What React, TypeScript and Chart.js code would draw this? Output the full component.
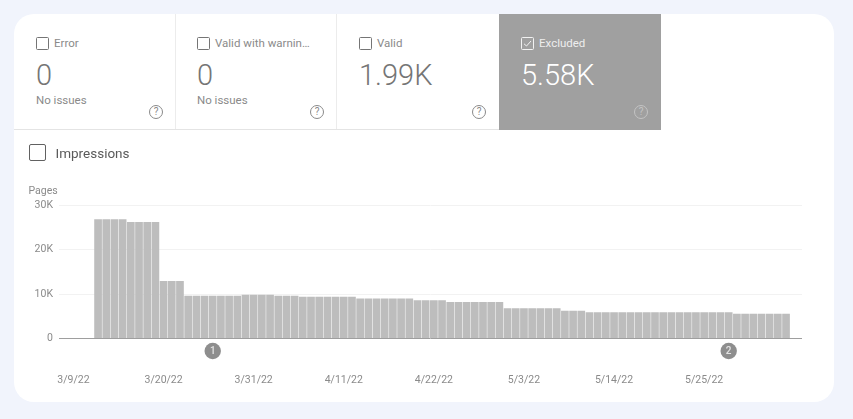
import { useEffect, useRef } from 'react'
import { Chart, registerables } from 'chart.js'

Chart.register(...registerables)

const FONT = 'Roboto, sans-serif'

// one bar per day, index 0 is 3/9/22
const pageCounts = [
    0, 0, 0,
    26800, 26800, 26800, 26800,
    26200, 26200, 26200, 26200,
    12900, 12900, 12900,
    9600, 9600, 9600, 9600, 9600, 9600, 9600,
    9850, 9850, 9850, 9850,
    9600, 9600, 9600,
    9400, 9400, 9400, 9400, 9400, 9400, 9400,
    9000, 9000, 9000, 9000, 9000, 9000, 9000,
    8600, 8600, 8600, 8600,
    8200, 8200, 8200, 8200, 8200, 8200, 8200,
    6800, 6800, 6800, 6800, 6800, 6800, 6800,
    6250, 6250, 6250,
    5900, 5900, 5900, 5900, 5900, 5900, 5900, 5900, 5900, 5900, 5900, 5900, 5900, 5900, 5900, 5900, 5900, 5900,
    5550, 5550, 5550, 5550, 5550, 5550, 5550
]
const tickDays = [0, 11, 22, 33, 44, 55, 66, 77]
const tickLabels = ['3/9/22', '3/20/22', '3/31/22', '4/11/22', '4/22/22', '5/3/22', '5/14/22', '5/25/22']
const annotationDays = [17, 80]
const annotationLabels = ['1', '2']
const annotationLevel = -2800

const tileLabels = ['Error', 'Valid with warnin…', 'Valid', 'Excluded']
const tileValues = ['0', '0', '1.99K', '5.58K']
const tileNotes = ['No issues', 'No issues', '', '']
const tileLefts = [0, 161, 323, 485]

// the markers sit under the axis, Chart.js skips points outside the chart area so draw them here
const annotationMarkers = {
    id: 'annotationMarkers',
    afterDatasetsDraw(chart: Chart) {
        const ctx = chart.ctx
        const meta = chart.getDatasetMeta(1)
        ctx.save()
        ctx.font = `500 10px ${FONT}`
        ctx.textAlign = 'center'
        ctx.textBaseline = 'middle'
        meta.data.forEach((pt, i) => {
            ctx.fillStyle = '#8e8e8e'
            ctx.beginPath()
            ctx.arc(pt.x, pt.y, 8.2, 0, Math.PI * 2)
            ctx.fill()
            ctx.fillStyle = '#e4e4e4'
            ctx.fillText(annotationLabels[i], pt.x, pt.y + 0.5)
        })
        ctx.restore()
    }
}

function HelpIcon({ color }: { color: string }) {
    return (
        <div style={{
            position: 'absolute', left: 135, top: 90.5, width: 12, height: 12, border: `1px solid ${color}`,
            borderRadius: '50%', color, fontSize: 10, lineHeight: '12px', textAlign: 'center'
        }}>?</div>
    )
}

function Tile({ index }: { index: number }) {
    const selected = index === 3
    const textColor = selected ? '#eeeeee' : '#8a8a8a'
    return (
        <div style={{
            position: 'absolute', left: tileLefts[index], top: 0, width: 162, height: 115.5, boxSizing: 'border-box',
            background: selected ? '#a0a0a0' : 'transparent',
            borderRight: index < 2 ? '1px solid #ececec' : 'none'
        }}>
            <div style={{
                position: 'absolute', left: 22, top: 23, width: 11, height: 11, border: `1px solid ${selected ? '#f2f2f2' : '#757575'}`,
                borderRadius: 1.5
            }}>
                {selected && (
                    <svg width="11" height="11" viewBox="0 0 11 11" style={{ display: 'block' }}>
                        <path d="M2 5.8 L4.5 8 L9 3" fill="none" stroke="#f2f2f2" strokeWidth="1" />
                    </svg>
                )}
            </div>
            <div style={{ position: 'absolute', left: 40, top: 22, fontSize: 11.5, lineHeight: '14px', color: textColor, whiteSpace: 'nowrap' }}>
                {tileLabels[index]}
            </div>
            <div style={{ position: 'absolute', left: 22, top: 43, fontSize: 29, fontWeight: 300, lineHeight: '36px', color: selected ? '#ffffff' : '#757575' }}>
                {tileValues[index]}
            </div>
            <div style={{ position: 'absolute', left: 22, top: 79, fontSize: 11.5, lineHeight: '14px', color: '#8a8a8a' }}>
                {tileNotes[index]}
            </div>
            <HelpIcon color={selected ? '#c4c4c4' : '#8a8a8a'} />
        </div>
    )
}

export default function App() {
    const chartRef = useRef<HTMLCanvasElement>(null)

    useEffect(() => {
        if (!chartRef.current) return
        const chart = new Chart(chartRef.current, {
            type: 'bar',
            data: {
                datasets: [
                    {
                        label: 'Pages',
                        data: pageCounts.map((y, x) => ({ x, y })),
                        backgroundColor: '#bdbdbd',
                        barPercentage: 0.94,
                        categoryPercentage: 1
                    },
                    {
                        type: 'scatter',
                        label: 'Annotations',
                        data: annotationDays.map(x => ({ x, y: annotationLevel })),
                        pointRadius: 0
                    }
                ]
            } as any,
            plugins: [annotationMarkers],
            options: {
                animation: false,
                responsive: false,
                layout: { padding: { top: 205, right: 51, left: 0, bottom: 0 } },
                plugins: {
                    legend: { display: false },
                    tooltip: { enabled: false }
                },
                scales: {
                    x: {
                        type: 'linear',
                        offset: false,
                        min: -1.77,
                        max: 88.95,
                        afterFit: (scale: any) => { scale.height = 80.5 },
                        afterBuildTicks: (scale: any) => { scale.ticks = tickDays.map(value => ({ value })) },
                        grid: { display: false, offset: false },
                        border: { display: false },
                        ticks: {
                            autoSkip: false,
                            maxRotation: 0,
                            padding: 28,
                            color: '#8a8a8a',
                            font: { family: FONT, size: 10.5 },
                            callback: (value: any) => tickLabels[tickDays.indexOf(value)]
                        }
                    },
                    y: {
                        min: 0,
                        max: 30000,
                        afterFit: (scale: any) => { scale.width = 59 },
                        grid: {
                            drawTicks: false,
                            color: (c: any) => (c.tick.value === 0 ? '#9e9e9e' : '#f2f2f2')
                        },
                        border: { display: false },
                        ticks: {
                            stepSize: 10000,
                            padding: 6,
                            color: '#8a8a8a',
                            font: { family: FONT, size: 10.5 },
                            callback: (value: any) => (value === 0 ? '0' : `${value / 1000}K`)
                        }
                    }
                }
            }
        })
        return () => chart.destroy()
    }, [])

    return (
        <div style={{ position: 'relative', width: 853, height: 419, overflow: 'hidden', background: '#f1f4fc', fontFamily: FONT }}>
            <style>{'body { margin: 0; }'}</style>
            <div style={{ position: 'absolute', left: 14, top: 14, width: 820, height: 388, borderRadius: 20, background: '#ffffff', overflow: 'hidden' }}>
                {tileLabels.map((_, i) => <Tile key={i} index={i} />)}
                <div style={{ position: 'absolute', left: 0, top: 115, width: 485, height: 1, background: '#e4e4e4' }} />
            </div>
            <canvas ref={chartRef} width={853} height={419} style={{ position: 'absolute', left: 0, top: 0 }} />
            <div style={{ position: 'absolute', left: 29, top: 144, width: 14.5, height: 14.5, border: '1.5px solid #616161', borderRadius: 2 }} />
            <div style={{ position: 'absolute', left: 55.5, top: 145, fontSize: 13.5, lineHeight: '16px', color: '#5a5a5a' }}>Impressions</div>
            <div style={{ position: 'absolute', left: 28.5, top: 184, fontSize: 10.5, lineHeight: '13px', color: '#8a8a8a' }}>Pages</div>
        </div>
    )
}
